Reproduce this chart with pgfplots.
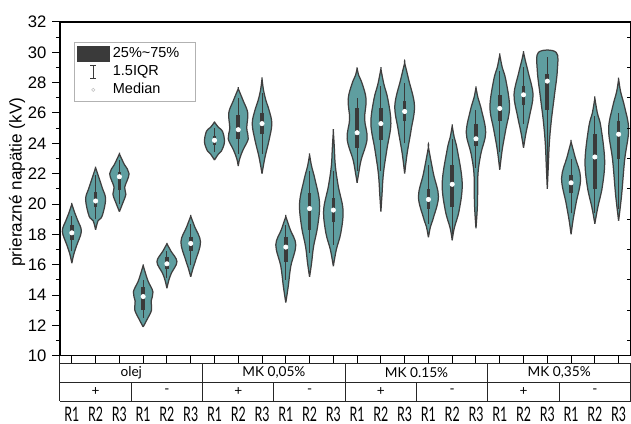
\documentclass[border=0pt]{standalone}
\usepackage{fontspec}
\setmainfont{Liberation Sans}
\newfontfamily\latofont{Lato}
\usepackage{graphicx}
\usepackage{pgfplots}
\pgfplotsset{compat=1.18}
\definecolor{vfill}{HTML}{5F9EA0}
\definecolor{vedge}{HTML}{3F3F3F}
\definecolor{boxc}{HTML}{3A3A3A}

\pgfplotsset{
  vio/.style={smooth, tension=0.6, fill=vfill, draw=vedge, line width=0.75pt, forget plot},
  whisk/.style={draw=boxc, line width=0.6pt, forget plot},
  qbox/.style={draw=boxc, line width=2.2pt, forget plot},
  med/.style={only marks, mark=*, mark size=1.3pt, mark options={fill=white, draw=white}, forget plot},
}
% #1 centre, #2 shape y/halfwidth(px), #3 whisker low, #4 whisker high, #5 Q1, #6 Q3, #7 median
\newcommand\violin[7]{%
  \gdef\vR{}\gdef\vL{}%
  \foreach \yy/\ww in {#2}{%
    \pgfmathsetmacro\xr{#1+\ww/23.79}%
    \pgfmathsetmacro\xl{#1-\ww/23.79}%
    \xdef\vR{\vR(\xr,\yy)}%
    \xdef\vL{(\xl,\yy)\vL}%
  }%
  \edef\tmp{\noexpand\addplot[vio] coordinates {\vR\vL};}\tmp
  \addplot[whisk] coordinates {(#1,#3) (#1,#4)};
  \addplot[qbox] coordinates {(#1,#5) (#1,#6)};
  \addplot[med] coordinates {(#1,#7)};
}

\begin{document}
\begin{tikzpicture}
\begin{axis}[
  scale only axis, width=342.6pt, height=200.4pt,
  xmin=-0.5, xmax=23.5, ymin=10, ymax=32,
  xtick={0,...,23}, xticklabels={}, xtick pos=left,
  ytick={10,12,...,32}, minor y tick num=1, ytick pos=left,
  tick align=outside, major tick length=4.6pt, minor tick length=2.4pt,
  tick style={line width=0.6pt, black},
  axis line style={line width=0.7pt, black},
  font=\fontsize{10}{12}\selectfont,
  /pgf/number format/assume math mode=true,
  ylabel={prierazné napätie (kV)},
  ylabel style={at={(axis description cs:-0.0753,0.52)}, anchor=center, font=\fontsize{10.3}{12}\selectfont},
  legend style={at={(0.0245,0.939)}, anchor=north west, draw=gray!60, line width=0.6pt,
    font=\fontsize{8.7}{10}\selectfont, inner xsep=1.5pt, inner ysep=1.5pt, row sep=0pt,
    cells={anchor=west}, nodes={text height=6.3pt, text depth=2pt, inner ysep=1.2pt, inner xsep=2pt}},
  legend cell align=left,
]
\addlegendimage{legend image code/.code={\fill[boxc] (0pt,-4.5pt) rectangle (19pt,4.5pt);}}
\addlegendentry{25\%\textasciitilde 75\%\hspace*{6pt}}
\addlegendimage{legend image code/.code={\path (0pt,0pt) (19pt,0pt); \draw[line width=0.6pt,boxc] (9.5pt,-3.9pt)--(9.5pt,3.9pt) (7.7pt,-3.9pt)--(11.3pt,-3.9pt) (7.7pt,3.9pt)--(11.3pt,3.9pt);}}
\addlegendentry{1.5IQR}
\addlegendimage{legend image code/.code={\path (0pt,0pt) (19pt,0pt); \filldraw[fill=white, draw=gray!50, line width=0.3pt] (9.5pt,0pt) circle (1pt);}}
\addlegendentry{Median}

% olej
\violin{0}{16.1/0, 16.7/2, 17.3/5, 18.2/9.5, 18.9/6, 19.4/3, 20.0/0}{16.9}{19.2}{17.6}{18.6}{18.1}
\violin{1}{18.3/0, 18.9/2.5, 19.2/6.5, 20.3/10, 21.0/7, 21.4/5, 21.9/2.5, 22.4/0}{19.0}{21.9}{19.8}{20.8}{20.2}
\violin{2}{19.5/0, 20.0/3, 20.65/6.5, 21.1/5.3, 22.0/9.7, 22.6/5, 23.3/0}{20.0}{22.9}{20.9}{22.1}{21.8}
\violin{3}{11.9/0, 12.4/4, 13.0/8.3, 13.6/8, 14.2/9.8, 14.9/5, 15.4/2.5, 15.95/0}{12.5}{15.0}{13.0}{14.5}{13.9}
\violin{4}{14.45/0, 15.0/2, 15.45/4.5, 16.2/10, 16.9/4, 17.38/0}{15.1}{16.9}{15.7}{16.5}{16.06}
\violin{5}{15.2/0, 15.8/2.5, 16.3/5, 17.5/9.8, 18.5/4, 19.2/0}{16.0}{18.7}{16.9}{17.8}{17.4}
% MK 0,05%
\violin{6}{22.9/0, 23.3/4, 23.5/7, 24.1/10, 24.8/8, 25.05/4, 25.4/0}{23.4}{25.0}{23.9}{24.5}{24.2}
\violin{7}{22.5/0, 23.0/1.5, 23.6/5, 24.3/10, 25.0/8.5, 26.0/9.5, 26.8/5, 27.6/0}{23.3}{27.0}{24.3}{25.9}{24.9}
\violin{8}{22.0/0, 23.1/3, 24.2/7, 25.3/9.8, 26.2/7, 26.8/4, 27.5/1.5, 28.25/0}{23.3}{27.3}{24.6}{26.0}{25.3}
\violin{9}{13.5/0, 14.6/2.5, 15.9/5, 17.3/10, 18.3/4.5, 19.17/0}{15.0}{18.6}{16.2}{17.8}{17.16}
\violin{10}{15.2/0, 16.1/2, 17.2/4, 18.5/8, 20.06/10, 21.6/5.5, 22.5/2, 23.24/0}{16.8}{22.2}{18.3}{20.7}{19.7}
\violin{11}{15.9/0, 17.0/3, 18.1/7.5, 19.6/9.7, 21.15/5, 22.5/2, 23.7/1, 24.8/0}{17.3}{22.2}{18.8}{20.4}{19.6}
% MK 0.15%
\violin{12}{21.4/0, 22.0/1.5, 22.9/4, 24.3/10, 25.6/7.5, 26.9/9, 27.95/5, 28.5/1.5, 28.95/0}{22.2}{27.0}{23.7}{26.3}{24.7}
\violin{13}{19.5/0, 20.5/1, 22.0/2.5, 23.6/6, 25.3/10, 26.9/7, 27.9/3, 28.9/0}{22.2}{27.8}{24.2}{26.3}{25.3}
\violin{14}{22.0/0, 23.35/2.5, 24.9/6.5, 26.5/9.8, 28.2/4, 29.3/0}{24.0}{28.0}{25.5}{26.8}{26.1}
\violin{15}{17.8/0, 18.5/2, 19.1/5, 20.5/10, 22.0/5, 23.74/0}{18.7}{22.6}{19.7}{21.0}{20.3}
\violin{16}{17.6/0, 18.4/2, 19.6/7, 21.4/10, 23.6/5, 24.4/2, 25.15/0}{18.0}{24.3}{19.8}{22.6}{21.3}
\violin{17}{18.4/0, 20.0/1.5, 22.0/2, 23.35/5, 24.7/9.7, 26.2/5.5, 27.0/2, 27.67/0}{22.4}{26.2}{23.8}{25.3}{24.3}
% MK 0,35%
\violin{18}{22.25/0, 23.6/2.5, 24.9/6, 26.4/9.8, 28.2/6, 29.0/2.5, 29.83/0}{23.4}{28.8}{25.5}{27.2}{26.3}
\violin{19}{23.7/0, 24.7/2.5, 25.8/6, 27.2/9.5, 28.6/5, 29.4/2, 30.0/0}{25.3}{29.0}{26.5}{27.8}{27.2}
\violin{20}{21.0/0, 22.5/1, 24.0/2, 25.5/4, 27.1/7, 28.8/10, 30.0/8.8}{21.3}{29.7}{26.2}{28.6}{28.1}
\violin{21}{18.0/0, 18.95/2, 20.06/5, 21.7/9.5, 23.1/4, 24.1/0}{19.4}{23.0}{20.7}{21.9}{21.4}
\violin{22}{18.7/0, 19.8/3, 21.15/7.5, 22.9/9.8, 25.1/6, 26.0/2.5, 26.97/0}{19.4}{25.8}{21.0}{24.6}{23.1}
\violin{23}{18.9/0, 20.6/3, 22.9/6, 24.9/10, 26.4/6, 27.4/2, 28.23/0}{19.7}{26.0}{23.0}{25.5}{24.6}
\end{axis}
\begin{axis}[
  scale only axis, width=342.6pt, height=200.4pt,
  xmin=-0.5, xmax=23.5, ymin=10, ymax=32,
  axis x line=none, axis y line*=right,
  ytick={11,13,...,31}, yticklabels={},
  tick align=inside, major tick length=2.2pt,
  tick style={line width=0.6pt, black},
  y axis line style={draw=none},
]
\end{axis}
% category table below the axis
\def\cw{14.275pt}
\begin{scope}[line width=0.6pt, black!85]
\draw (0pt,-4.5pt) -- (342.6pt,-4.5pt);
\draw (0pt,-15.9pt) -- (342.6pt,-15.9pt);
\draw (0pt,-27.3pt) -- (342.6pt,-27.3pt);
\draw (0pt,0pt) -- (0pt,-27.3pt);
\draw (342.6pt,-4.5pt) -- (342.6pt,-27.3pt);
\foreach \k in {6,12,18} \draw (\k*\cw,-4.5pt) -- (\k*\cw,-27.3pt);
\foreach \k in {3,9,15,21} \draw (\k*\cw,-15.9pt) -- (\k*\cw,-27.3pt);
\end{scope}
\begin{scope}[font=\latofont\fontsize{8.2}{9.6}\selectfont]
\node at (3*\cw,-10.2pt) {olej};
\node at (9*\cw,-10.2pt) {MK 0,05\%};
\node at (15*\cw,-10.2pt) {MK 0.15\%};
\node at (21*\cw,-10.2pt) {MK 0,35\%};
\foreach \k/\s in {1.5/+,4.5/-,7.5/+,10.5/-,13.5/+,16.5/-,19.5/+,22.5/-}
  \node at (\k*\cw,-21.6pt) {\s};
\end{scope}
\begin{scope}[font=\latofont\fontsize{12}{14}\selectfont]
\foreach \i in {0,...,23}{
  \pgfmathtruncatemacro\r{mod(\i,3)+1}
  \node[inner sep=0pt] at ({(\i+0.5)*\cw},-35.4pt) {\scalebox{0.62}[1]{R\r}};
}
\end{scope}
\pgfresetboundingbox
\path[use as bounding box] (-36pt,-40.5pt) rectangle (342.9pt,213.6pt);
\end{tikzpicture}
\end{document}
